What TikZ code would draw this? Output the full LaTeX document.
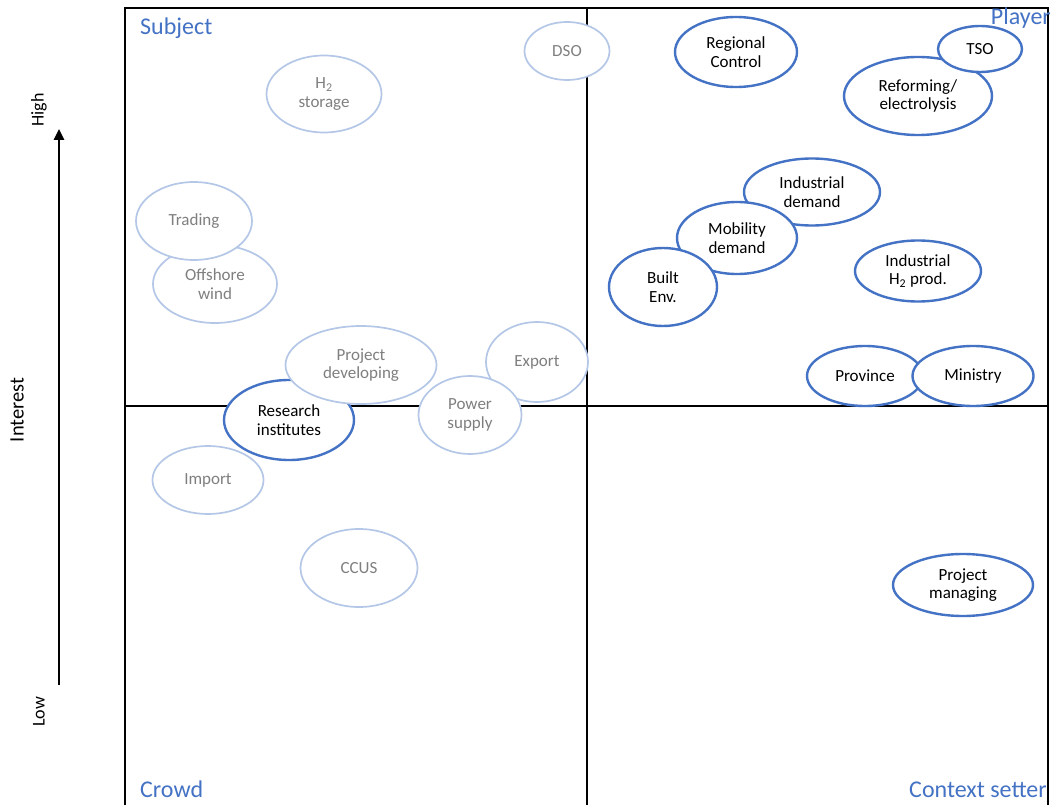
\documentclass[tikz,border=0pt]{standalone}
\usepackage{fontspec}
\setmainfont{Carlito}
\usetikzlibrary{shapes.geometric,arrows.meta}
\definecolor{accent}{HTML}{4472C4}
\definecolor{pale}{HTML}{B4C7E7}
\definecolor{mute}{HTML}{7F7F7F}
\tikzset{
  actor/.style={ellipse, inner sep=0pt, fill=white, align=center,
    font=\fontsize{17}{18.5}\selectfont},
  minor/.style={actor, draw=pale, line width=1.7pt, text=mute},
  major/.style={actor, draw=accent, line width=2.4pt, text=black},
  sz/.style 2 args={minimum width=#1pt, minimum height=#2pt},
  quad/.style={text=accent, font=\fontsize{24}{28}\selectfont, inner sep=0pt},
  frame/.style={line width=1.5pt, black},
}
\begin{document}
\begin{tikzpicture}[x=1pt, y=-1pt]
\useasboundingbox (0,0) rectangle (1052,805);
\fill[white] (0,0) rectangle (1052,805);

% quadrant grid
\coordinate (tl) at (125,8);
\coordinate (tr) at (1048,8);
\coordinate (bl) at (125,805);
\coordinate (br) at (1048,805);
\coordinate (tm) at (587,8);
\coordinate (bm) at (587,805);
\coordinate (ml) at (125,406);
\coordinate (mr) at (1048,406);
\draw[frame] (bl) -- (tl) -- (tr) -- (br);
\draw[frame] (tm) -- (bm);
\draw[frame] (ml) -- (mr);

% interest axis
\coordinate (lo) at (59,685);
\coordinate (hi) at (59,129);
\draw[line width=2.6pt, -{Triangle[length=11pt,width=10pt]}] (lo) -- (hi);
\node[rotate=90, font=\fontsize{18}{20}\selectfont] (high) at (39,110) {High};
\node[rotate=90, font=\fontsize{18}{20}\selectfont] (low) at (39,712) {Low};
\node[rotate=90, font=\fontsize{20.5}{24}\selectfont] (interest) at (17,410) {Interest};

% low-influence stakeholders
\node[minor, sz={85}{58}] (dso) at (567,51) {DSO};
\node[minor, sz={115}{77}] (h2s) at (324,94) {H\textsubscript{2}\\storage};
\node[minor, sz={124}{78}] (wind) at (215,284) {Offshore\\wind};
\node[minor, sz={116}{78}] (trading) at (194,221) {Trading};
\node[minor, sz={102}{80}] (export) at (537,362) {Export};
\node[major, sz={130}{80}] (research) at (289,420) {Research\\institutes};
\node[minor, sz={151}{78}] (devel) at (361,365) {Project\\developing};
\node[minor, sz={103}{78}] (power) at (470,415) {Power\\supply};
\node[minor, sz={111}{68}] (import) at (208,480) {Import};
\node[minor, sz={117}{78}] (ccus) at (359,568) {CCUS};

% high-influence stakeholders
\node[major, sz={122}{70}] (regional) at (736,52) {Regional\\Control};
\node[major, sz={148}{78}] (reform) at (918,96) {Reforming/\\electrolysis};
\node[major, sz={84}{46}] (tso) at (980,49) {TSO};
\node[major, sz={136}{67}] (inddem) at (812,192) {Industrial\\demand};
\node[major, sz={120}{72}] (mobility) at (737,238) {Mobility\\demand};
\node[major, sz={108}{78}] (built) at (663,287) {Built\\Env.};
\node[major, sz={126}{61}] (indprod) at (918,271) {Industrial\\H\textsubscript{2} prod.};
\node[major, sz={116}{60}] (province) at (865,376) {Province};
\node[major, sz={121}{60}] (ministry) at (973,376) {Ministry};
\node[major, sz={140}{62}] (managing) at (963,585) {Project\\managing};

% quadrant names
\node[quad, anchor=base west] (subject) at (140,35) {Subject};
\begin{scope}
  \clip (125,0) rectangle (1049,805);
  \node[quad, anchor=base east] (player) at (1051,25) {Player};
\end{scope}
\node[quad, anchor=base west] (crowd) at (140,797) {Crowd};
\node[quad, anchor=base east] (context) at (1047,797) {Context setter};
\end{tikzpicture}
\end{document}
